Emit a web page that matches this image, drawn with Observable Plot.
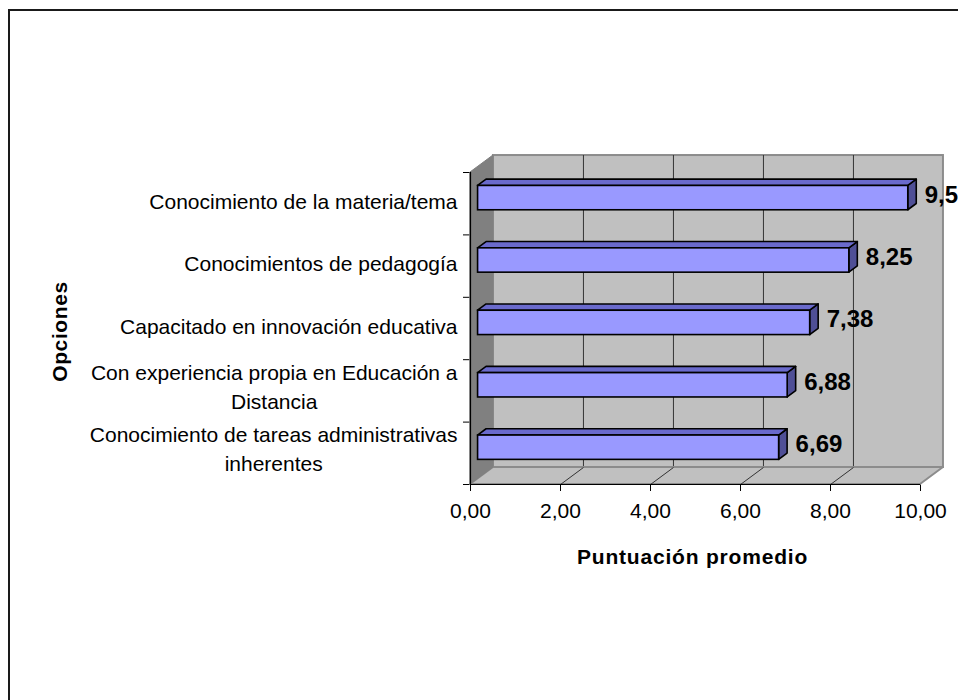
<!DOCTYPE html>
<html><head><meta charset="utf-8">
<script src="https://cdn.jsdelivr.net/npm/d3@7"></script>
<script src="https://cdn.jsdelivr.net/npm/@observablehq/plot@0.6"></script>
<style>
html,body{margin:0;padding:0;background:#fff;overflow:hidden;}
#wrap{position:relative;width:958px;height:700px;overflow:hidden;}
#border{position:absolute;left:8px;top:9px;width:1000px;height:800px;border-left:2px solid #1a1a1a;border-top:2px solid #1a1a1a;pointer-events:none;}
</style></head><body>
<div id="wrap"><div id="chart"></div><div id="border"></div></div>
<script>
const categories = [
  "Conocimiento de la materia/tema",
  "Conocimientos de pedagogía",
  "Capacitado en innovación educativa",
  "Con experiencia propia en Educación a\nDistancia",
  "Conocimiento de tareas administrativas\ninherentes"
];
const values = [9.56, 8.25, 7.38, 6.88, 6.69];
const xTicks = [0, 2, 4, 6, 8, 10];
const xTitle = "Puntuación promedio";
const yTitle = "Opciones";
const fmt = d => d.toFixed(2).replace(".", ",");

const FONT = "'Liberation Sans', Arial, sans-serif";
const CAT_SIZE = 21;
const n = categories.length;
const xMax = 10;
// 3D depth (data units) and bar depth fractions
const DX = 0.51, DY = 0.272;
const F1 = 0.33, F2 = 0.70;
const H = 0.39;
const dd = (F2 - F1) * DY;

const rows = categories.map((cat, i) => {
  const c = n - i - 0.5;
  const bot = c - H / 2 + F1 * DY, top = c + H / 2 + F1 * DY;
  return {cat, v: values[i], c, bot, top, key: i};
});
const topPts = rows.flatMap(r => [
  {key: r.key, y: r.top, x1: F1 * DX, x2: r.v + F1 * DX},
  {key: r.key, y: r.top + dd, x1: F2 * DX, x2: r.v + F2 * DX}
]);
const sidePts = rows.flatMap(r => [
  {key: r.key, x: r.v + F1 * DX, y1: r.bot, y2: r.top},
  {key: r.key, x: r.v + F2 * DX, y1: r.bot + dd, y2: r.top + dd}
]);
const gridX = xTicks.filter(t => t > 0 && t < xMax);

const ctx = document.createElement("canvas").getContext("2d");
ctx.font = CAT_SIZE + "px " + FONT;
const textW = s => Math.max(...s.split("\n").map(l => ctx.measureText(l).width));

const catMarks = rows.map(r => Plot.text([r], {
  y: d => d.c, text: d => d.cat, frameAnchor: "left",
  textAnchor: "middle", dx: -13 - textW(r.cat) / 2, dy: r.cat.includes("\n") ? -6 : -4,
  lineHeight: 1.38, fontSize: CAT_SIZE, fill: "black"
}));

const svg = Plot.plot({
  width: 958, height: 700,
  marginLeft: 470, marginRight: 38, marginTop: 172, marginBottom: 216,
  style: {background: "white", fontFamily: FONT, fontSize: "21px", color: "black", overflow: "visible"},
  x: {domain: [0, xMax], ticks: xTicks, tickFormat: fmt, tickSize: 7, tickPadding: 12, label: null},
  y: {domain: [0, n], ticks: d3.range(n + 1), tickFormat: () => "", tickSize: 7, label: null},
  marks: [
    // back wall
    Plot.rect([0], {x1: () => DX, x2: () => xMax + DX, y1: () => DY, y2: () => n + DY,
      fill: "#c0c0c0", stroke: "#8c8c8c", strokeWidth: 2}),
    Plot.ruleX(gridX, {x: d => d + DX, y1: () => DY, y2: () => n + DY, stroke: "#333", strokeWidth: 1}),
    // floor
    Plot.areaX([{y: 0, x1: 0, x2: xMax}, {y: DY, x1: DX, x2: xMax + DX}],
      {y: "y", x1: "x1", x2: "x2", fill: "#c0c0c0", stroke: "#8c8c8c", strokeWidth: 2}),
    Plot.link(gridX, {x1: d => d, y1: () => 0, x2: d => d + DX, y2: () => DY, stroke: "#333", strokeWidth: 1}),
    // left wall
    Plot.areaY([{x: 0, y1: 0, y2: n}, {x: DX, y1: DY, y2: n + DY}],
      {x: "x", y1: "y1", y2: "y2", fill: "#808080", stroke: "#808080", strokeWidth: 1}),
    // bars
    Plot.areaY(sidePts, {x: "x", y1: "y1", y2: "y2", z: "key", fill: "#4f4f96", stroke: "black", strokeWidth: 1.6}),
    Plot.areaX(topPts, {y: "y", x1: "x1", x2: "x2", z: "key", fill: "#6a6acc", stroke: "black", strokeWidth: 1.6}),
    Plot.rect(rows, {x1: () => F1 * DX, x2: d => d.v + F1 * DX, y1: d => d.bot, y2: d => d.top,
      fill: "#9999ff", stroke: "black", strokeWidth: 1.6}),
    // axis lines
    Plot.ruleX([0], {y1: () => 0, y2: () => n, stroke: "black", strokeWidth: 1.2}),
    Plot.ruleY([0], {x1: () => 0, x2: () => xMax, stroke: "black", strokeWidth: 1.2}),
    // value labels
    Plot.text(rows, {x: d => d.v + F2 * DX, y: d => d.c + (F1 + F2) / 2 * DY, text: d => fmt(d.v),
      textAnchor: "start", dx: 8, fontSize: 24, fontWeight: "bold", fill: "black"}),
    ...catMarks,
    Plot.text([yTitle], {x: () => 0, y: () => n / 2, text: d => d, dx: -410, dy: 3, rotate: -90,
      fontSize: 21, fontWeight: "bold", fill: "black"}),
    Plot.text([xTitle], {text: d => d, frameAnchor: "bottom", dx: -3, dy: 79,
      fontSize: 21, fontWeight: "bold", fill: "black"})
  ]
});
svg.querySelectorAll("text").forEach(t => {
  if (t.textContent === xTitle) t.setAttribute("letter-spacing", "0.8");
  if (t.textContent === yTitle) t.setAttribute("letter-spacing", "0.6");
});
document.getElementById("chart").appendChild(svg);
</script>
</body></html>
